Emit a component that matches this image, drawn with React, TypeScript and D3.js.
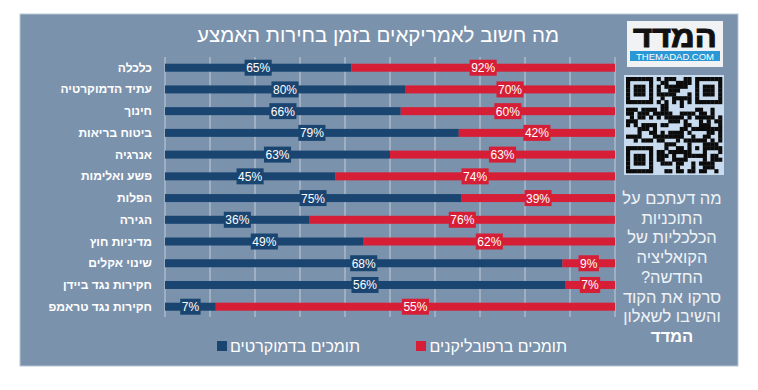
import React from "react";
import * as d3 from "d3";

const categories = [
  "כלכלה",
  "עתיד הדמוקרטיה",
  "חינוך",
  "ביטוח בריאות",
  "אנרגיה",
  "פשע ואלימות",
  "הפלות",
  "הגירה",
  "מדיניות חוץ",
  "שינוי אקלים",
  "חקירות נגד ביידן",
  "חקירות נגד טראמפ",
];
const demValues = [65, 80, 66, 79, 63, 45, 75, 36, 49, 68, 56, 7];
const repValues = [92, 70, 60, 42, 63, 74, 39, 76, 62, 9, 7, 55];
const gridTicks = [0, 0.1, 0.2, 0.3, 0.4, 0.5, 0.6, 0.7, 0.8, 0.9, 1];

const title = "מה חשוב לאמריקאים בזמן בחירות האמצע";
const sideLines = [
  "מה דעתכם על",
  "התוכניות",
  "הכלכליות של",
  "הקואליציה",
  "החדשה?",
  "סרקו את הקוד",
  "והשיבו לשאלון",
];
const sideBold = "המדד";
const legendDem = "תומכים בדמוקרטים";
const legendRep = "תומכים ברפובליקנים";

const W = 758;
const H = 390;
const PANEL = "#7b92ad";
const DEM = "#1b4571";
const REP = "#d61f36";
const GRID = "#c3cdd8";
const FONT = "'Liberation Sans', Arial, sans-serif";

// QR-like module pattern, decoration only
const QN = 25;
const isFinder = (r: number, c: number) => {
  const inBox = (r0: number, c0: number) =>
    r >= r0 && r < r0 + 7 && c >= c0 && c < c0 + 7;
  return inBox(0, 0) || inBox(0, QN - 7) || inBox(QN - 7, 0);
};
const finderOn = (r: number, c: number) => {
  const rr = r >= QN - 7 ? r - (QN - 7) : r;
  const cc = c >= QN - 7 ? c - (QN - 7) : c;
  const edge = rr === 0 || rr === 6 || cc === 0 || cc === 6;
  const core = rr >= 2 && rr <= 4 && cc >= 2 && cc <= 4;
  return edge || core;
};
const nearFinder = (r: number, c: number) =>
  (r < 8 && c < 8) || (r < 8 && c >= QN - 8) || (r >= QN - 8 && c < 8);

const hash = (r: number, c: number) => {
  let h = (r * 374761393 + c * 668265263) | 0;
  h = Math.imul(h ^ (h >>> 13), 1274126177);
  h = h ^ (h >>> 16);
  return (h >>> 0) % 100;
};

function qrCells() {
  const cells: { r: number; c: number }[] = [];
  for (let r = 0; r < QN; r++) {
    for (let c = 0; c < QN; c++) {
      let on = false;
      if (isFinder(r, c)) on = finderOn(r, c);
      else if (nearFinder(r, c)) on = false;
      else if (r >= 16 && r <= 20 && c >= 16 && c <= 20) {
        const rr = r - 16, cc = c - 16;
        on = rr === 0 || rr === 4 || cc === 0 || cc === 4 || (rr === 2 && cc === 2);
      } else if (r === 6) on = c % 2 === 0;
      else if (c === 6) on = r % 2 === 0;
      else on = hash(r, c) < 50;
      if (on) cells.push({ r, c });
    }
  }
  return cells;
}

export default function App() {
  const x = d3.scaleLinear().domain([0, 1]).range([165, 615]);
  const y = d3.scalePoint<string>().domain(categories).range([67.7, 306.7]);
  const barH = 8;
  const boxH = 16;
  const boxW = (s: string) => 7 + s.length * 6.7;

  const rows = categories.map((cat, i) => {
    const total = demValues[i] + repValues[i];
    const share = demValues[i] / total;
    return { cat, dem: demValues[i], rep: repValues[i], share };
  });

  const qx = d3.scaleLinear().domain([0, QN]).range([626, 722]);
  const qy = d3.scaleLinear().domain([0, QN]).range([77, 173]);
  const cells = qrCells();

  return (
    <svg
      width={W}
      height={H}
      style={{ position: "absolute", left: 0, top: 0, background: "#fff" }}
      fontFamily={FONT}
    >
      <rect x={20} y={14} width={718} height={352} fill={PANEL} stroke="#b9c5d3" strokeWidth={1} />

      <text x={378} y={42} fill="#fff" fontSize={20.5} textAnchor="middle" direction="rtl">
        {title}
      </text>

      {gridTicks.map((t) => (
        <line key={t} x1={x(t)} x2={x(t)} y1={57} y2={317} stroke={GRID} strokeWidth={1} />
      ))}

      {rows.map((d) => {
        const cy = y(d.cat)!;
        const xm = x(d.share);
        const demLabel = `${d.dem}%`;
        const repLabel = `${d.rep}%`;
        const demMid = (x(0) + xm) / 2;
        const repMid = (xm + x(1)) / 2;
        return (
          <g key={d.cat}>
            <text
              x={152}
              y={cy + 4}
              fill="#fff"
              fontSize={12}
              fontWeight="bold"
              textAnchor="end"
            >
              {d.cat}
            </text>
            <rect x={x(0)} y={cy - barH / 2} width={xm - x(0)} height={barH} fill={DEM} />
            <rect x={xm} y={cy - barH / 2} width={x(1) - xm} height={barH} fill={REP} />
            <rect
              x={demMid - boxW(demLabel) / 2}
              y={cy - boxH / 2}
              width={boxW(demLabel)}
              height={boxH}
              fill={DEM}
            />
            <text x={demMid} y={cy + 4.5} fill="#fff" fontSize={12} textAnchor="middle">
              {demLabel}
            </text>
            <rect
              x={repMid - boxW(repLabel) / 2}
              y={cy - boxH / 2}
              width={boxW(repLabel)}
              height={boxH}
              fill={REP}
            />
            <text x={repMid} y={cy + 4.5} fill="#fff" fontSize={12} textAnchor="middle">
              {repLabel}
            </text>
          </g>
        );
      })}

      {/* legend */}
      <rect x={217} y={341} width={10} height={10} fill={DEM} />
      <text x={360} y={352} fill="#fff" fontSize={16} textAnchor="end">
        {legendDem}
      </text>
      <rect x={416} y={341} width={10} height={10} fill={REP} />
      <text x={567} y={352} fill="#fff" fontSize={16} textAnchor="end">
        {legendRep}
      </text>

      {/* logo */}
      <rect x={627} y={21} width={96} height={46} fill="#f1f2f3" />
      <text
        x={675}
        y={47}
        fontSize={30}
        fontWeight="bold"
        fill="#111"
        stroke="#111"
        strokeWidth={1}
        textAnchor="middle"
        textLength={84}
        lengthAdjust="spacingAndGlyphs"
        direction="rtl"
      >
        המדד
      </text>
      <rect x={630} y={51} width={90} height={10} fill="#2b97d4" />
      <text
        x={675}
        y={59.5}
        fontSize={9}
        fill="#fff"
        textAnchor="middle"
        textLength={78}
        lengthAdjust="spacingAndGlyphs"
      >
        THEMADAD.COM
      </text>

      {/* QR */}
      <rect x={624} y={75} width={100} height={100} fill="#c9dcef" />
      {cells.map((c) => (
        <rect
          key={`${c.r}-${c.c}`}
          x={qx(c.c)}
          y={qy(c.r)}
          width={qx(1) - qx(0) + 0.3}
          height={qy(1) - qy(0) + 0.3}
          fill="#0b0b0b"
        />
      ))}

      {sideLines.map((s, i) => (
        <text
          key={s}
          x={672}
          y={204 + i * 19.7}
          fill="#eef2f6"
          fontSize={16.5}
          textAnchor="middle"
          direction="rtl"
        >
          {s}
        </text>
      ))}
      <text
        x={672}
        y={204 + 7 * 19.7}
        fill="#fff"
        fontSize={16.5}
        fontWeight="bold"
        textAnchor="middle"
        direction="rtl"
      >
        {sideBold}
      </text>
    </svg>
  );
}
